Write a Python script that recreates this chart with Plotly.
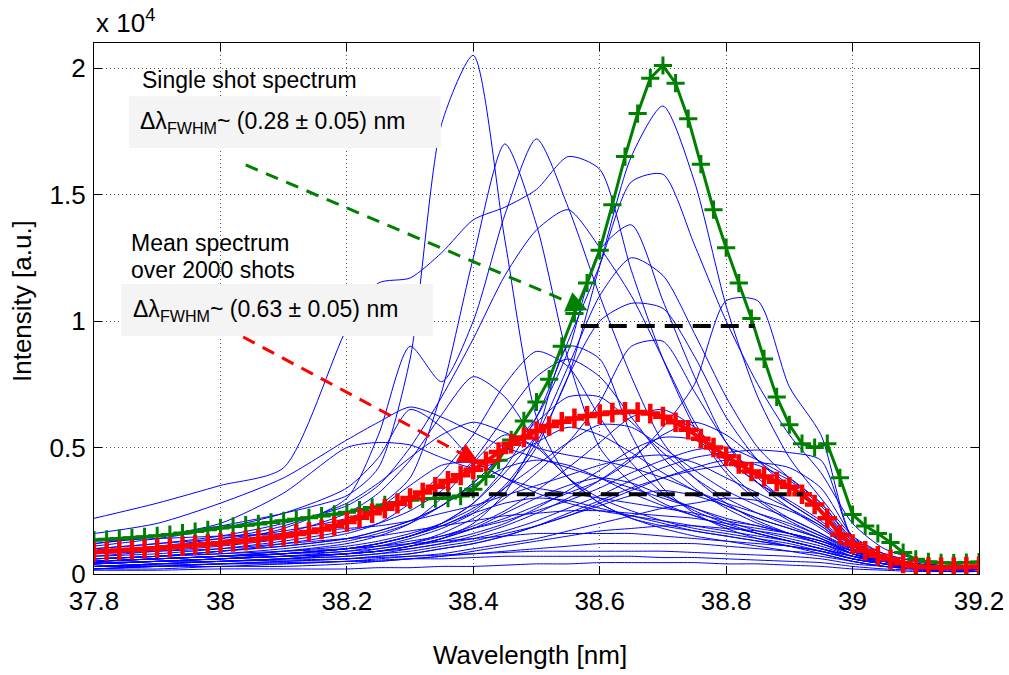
import plotly.graph_objects as go

# ---------------- data (intensity in units of 10^4 a.u.) ----------------
WAVELENGTH = [37.80, 37.82, 37.84, 37.86, 37.88, 37.90, 37.92, 37.94, 37.96, 37.98,
              38.00, 38.02, 38.04, 38.06, 38.08, 38.10, 38.12, 38.14, 38.16, 38.18,
              38.20, 38.22, 38.24, 38.26, 38.28, 38.30, 38.32, 38.34, 38.36, 38.38,
              38.40, 38.42, 38.44, 38.46, 38.48, 38.50, 38.52, 38.54, 38.56, 38.58,
              38.60, 38.62, 38.64, 38.66, 38.68, 38.70, 38.72, 38.74, 38.76, 38.78,
              38.80, 38.82, 38.84, 38.86, 38.88, 38.90, 38.92, 38.94, 38.96, 38.98,
              39.00, 39.02, 39.04, 39.06, 39.08, 39.10, 39.12, 39.14, 39.16, 39.18,
              39.20]

SINGLE_SHOT = [0.134, 0.137, 0.140, 0.143, 0.147, 0.151, 0.156, 0.162, 0.168, 0.175,
               0.182, 0.188, 0.193, 0.198, 0.204, 0.210, 0.216, 0.222, 0.229, 0.236,
               0.244, 0.253, 0.263, 0.273, 0.283, 0.292, 0.297, 0.298, 0.300, 0.308,
               0.335, 0.385, 0.450, 0.530, 0.605, 0.680, 0.770, 0.900, 1.030, 1.150,
               1.280, 1.460, 1.650, 1.820, 1.960, 2.010, 1.940, 1.800, 1.620, 1.440,
               1.290, 1.150, 1.010, 0.850, 0.700, 0.590, 0.515, 0.500, 0.515, 0.380,
               0.235, 0.190, 0.160, 0.125, 0.085, 0.058, 0.048, 0.044, 0.043, 0.045,
               0.047]

MEAN_SPECTRUM = [0.087, 0.090, 0.093, 0.096, 0.099, 0.102, 0.106, 0.110, 0.114, 0.118,
                 0.122, 0.127, 0.132, 0.138, 0.144, 0.150, 0.158, 0.166, 0.176, 0.190,
                 0.206, 0.222, 0.240, 0.258, 0.278, 0.300, 0.322, 0.345, 0.368, 0.390,
                 0.412, 0.445, 0.482, 0.515, 0.540, 0.565, 0.585, 0.602, 0.615, 0.625,
                 0.632, 0.638, 0.641, 0.640, 0.634, 0.622, 0.600, 0.570, 0.535, 0.500,
                 0.465, 0.435, 0.405, 0.385, 0.365, 0.345, 0.315, 0.275, 0.220, 0.155,
                 0.118, 0.092, 0.072, 0.058, 0.042, 0.030, 0.027, 0.026, 0.027, 0.028,
                 0.030]

SHOT_WAVELENGTH = [37.8, 37.9, 38.0, 38.1, 38.2, 38.25, 38.3, 38.35, 38.4, 38.45, 38.5, 38.55,
                   38.6, 38.65, 38.7, 38.75, 38.8, 38.85, 38.9, 38.95, 39.0, 39.05, 39.1, 39.15, 39.2]

SHOT_SPECTRA = [
    [.12, .15, .19, .24, .31, .42, .85, 1.78, 2.05, 1.32, .62, .38, .28, .22, .19, .17, .15, .13, .11, .09, .06, .04, .03, .02, .02],
    [.10, .12, .14, .17, .22, .27, .38, .72, 1.25, 1.70, 1.38, .85, .50, .36, .28, .23, .19, .16, .13, .10, .07, .05, .035, .03, .03],
    [.08, .10, .13, .18, .30, .55, .90, .76, 1.00, 1.42, 1.72, 1.45, 1.10, .78, .52, .38, .28, .21, .16, .12, .08, .05, .04, .03, .03],
    [.22, .28, .35, .42, .97, 1.15, 1.17, 1.27, 1.40, 1.45, 1.52, 1.65, 1.60, 1.20, .85, .58, .40, .29, .21, .15, .10, .06, .04, .03, .03],
    [.05, .06, .07, .08, .10, .12, .15, .20, .28, .42, .62, .92, 1.22, 1.55, 1.58, 1.30, 1.00, .75, .55, .40, .20, .10, .06, .04, .03],
    [.05, .06, .07, .08, .10, .12, .15, .19, .25, .35, .52, .78, 1.22, 1.65, 1.85, 1.55, 1.06, .70, .46, .30, .15, .08, .05, .03, .03],
    [.04, .05, .06, .07, .08, .09, .11, .14, .18, .22, .27, .32, .37, .45, .58, .75, 1.08, 1.08, .74, .55, .14, .07, .04, .03, .03],
    [.10, .12, .15, .20, .27, .35, .50, .70, .93, 1.18, 1.36, 1.44, 1.29, 1.10, .85, .60, .42, .30, .22, .16, .10, .06, .04, .03, .03],
    [.06, .07, .08, .10, .13, .16, .20, .27, .36, .48, .62, .88, 1.28, 1.38, 1.08, .78, .52, .36, .26, .18, .10, .06, .04, .03, .03],
    [.05, .06, .07, .08, .10, .12, .15, .20, .28, .40, .55, .82, 1.10, 1.25, 1.18, .95, .70, .50, .38, .28, .14, .08, .05, .03, .03],
    [.05, .06, .07, .08, .09, .11, .14, .18, .24, .34, .50, .78, 1.00, 1.07, 1.05, .86, .62, .45, .34, .25, .13, .07, .04, .03, .03],
    [.04, .05, .06, .07, .08, .10, .12, .16, .22, .30, .40, .52, .68, .90, .92, .72, .52, .38, .28, .20, .11, .06, .04, .03, .02],
    [.16, .20, .28, .38, .53, .60, .66, .62, .56, .50, .46, .42, .38, .34, .30, .26, .22, .19, .16, .13, .09, .06, .04, .03, .03],
    [.12, .15, .20, .32, .50, .52, .51, .46, .42, .45, .52, .58, .55, .48, .40, .33, .27, .22, .18, .14, .09, .06, .04, .03, .03],
    [.09, .11, .14, .19, .28, .36, .46, .55, .60, .56, .50, .47, .45, .42, .38, .33, .28, .24, .20, .15, .09, .06, .04, .03, .03],
    [.11, .14, .18, .24, .34, .46, .65, .58, .45, .38, .34, .32, .30, .28, .26, .24, .21, .19, .16, .13, .08, .05, .04, .03, .03],
    [.07, .08, .10, .13, .17, .20, .25, .33, .45, .62, .78, .85, .78, .62, .46, .34, .26, .20, .16, .12, .08, .05, .03, .03, .02],
    [.06, .07, .09, .11, .14, .17, .21, .27, .36, .48, .60, .70, .70, .60, .48, .38, .30, .24, .19, .14, .08, .05, .03, .02, .02],
    [.05, .06, .07, .09, .11, .13, .16, .20, .26, .34, .43, .52, .59, .58, .50, .41, .33, .27, .22, .16, .09, .05, .03, .02, .02],
    [.04, .05, .06, .07, .09, .10, .12, .15, .19, .25, .33, .42, .52, .62, .65, .58, .46, .36, .28, .20, .10, .05, .03, .02, .02],
    [.04, .05, .06, .07, .08, .09, .11, .13, .16, .20, .26, .33, .41, .49, .54, .53, .45, .36, .29, .21, .11, .06, .03, .02, .02],
    [.03, .04, .05, .06, .07, .08, .10, .12, .15, .19, .24, .30, .37, .46, .55, .60, .55, .45, .35, .25, .12, .06, .03, .02, .02],
    [.05, .06, .07, .08, .10, .11, .13, .15, .18, .21, .25, .29, .34, .40, .45, .49, .50, .45, .38, .28, .13, .06, .03, .02, .02],
    [.03, .04, .05, .06, .07, .08, .09, .11, .13, .16, .19, .23, .28, .33, .38, .42, .45, .43, .37, .27, .12, .06, .03, .02, .02],
    [.04, .05, .06, .07, .08, .09, .10, .12, .14, .17, .21, .26, .31, .37, .42, .46, .48, .49, .48, .45, .14, .06, .04, .03, .02],
    [.06, .07, .09, .11, .14, .17, .21, .27, .35, .42, .45, .43, .38, .32, .27, .23, .19, .16, .13, .10, .07, .05, .03, .02, .02],
    [.05, .06, .07, .09, .12, .15, .20, .30, .44, .55, .50, .38, .28, .22, .18, .15, .13, .11, .09, .07, .05, .03, .02, .02, .02],
    [.07, .09, .11, .14, .20, .26, .35, .43, .44, .38, .32, .28, .25, .23, .21, .19, .17, .15, .13, .10, .07, .05, .03, .02, .02],
    [.03, .04, .05, .06, .08, .09, .11, .14, .18, .24, .30, .35, .38, .36, .31, .26, .21, .17, .14, .11, .07, .04, .02, .02, .01],
    [.02, .03, .04, .05, .06, .07, .08, .10, .12, .15, .19, .23, .27, .31, .33, .31, .27, .22, .18, .14, .08, .04, .02, .01, .01],
    [.02, .03, .03, .04, .05, .06, .07, .08, .10, .12, .14, .17, .20, .23, .26, .28, .30, .29, .25, .19, .09, .04, .02, .01, .01],
    [.04, .05, .06, .08, .10, .12, .15, .19, .24, .28, .30, .29, .26, .23, .20, .17, .15, .13, .11, .09, .06, .04, .02, .02, .01],
    [.08, .09, .10, .12, .14, .15, .17, .19, .21, .23, .24, .25, .25, .24, .23, .22, .20, .18, .16, .13, .08, .05, .03, .02, .02],
    [.02, .02, .03, .03, .04, .05, .06, .07, .09, .11, .13, .15, .17, .18, .19, .19, .18, .17, .15, .12, .07, .04, .02, .01, .01],
    [.06, .07, .08, .09, .10, .11, .12, .13, .14, .15, .16, .16, .16, .16, .15, .14, .13, .12, .11, .09, .06, .04, .03, .02, .02],
    [.03, .03, .04, .04, .05, .05, .06, .07, .08, .09, .10, .11, .12, .12, .12, .12, .11, .10, .09, .08, .05, .03, .02, .01, .01],
    [.045, .05, .05, .055, .06, .065, .07, .075, .08, .085, .09, .09, .09, .09, .09, .085, .08, .075, .07, .06, .04, .03, .02, .015, .01],
    [.015, .015, .02, .02, .02, .025, .025, .03, .03, .035, .04, .04, .045, .045, .045, .045, .04, .04, .035, .03, .02, .015, .01, .01, .01],
    [.03, .035, .04, .045, .05, .055, .06, .06, .065, .07, .07, .07, .07, .07, .065, .065, .06, .055, .05, .045, .03, .02, .015, .01, .01],
    [.02, .03, .04, .05, .06, .07, .08, .10, .12, .15, .19, .24, .29, .34, .38, .41, .43, .44, .42, .34, .15, .06, .03, .02, .02],
    [.03, .04, .05, .06, .08, .09, .11, .14, .20, .32, .55, .90, .85, .55, .34, .24, .18, .14, .11, .08, .05, .03, .02, .02, .02],
    [.06, .07, .09, .12, .16, .20, .28, .40, .55, .75, .88, .82, .62, .44, .32, .25, .20, .16, .13, .10, .06, .04, .03, .02, .02],
    [.08, .10, .12, .16, .24, .32, .45, .63, .78, .70, .52, .38, .30, .25, .21, .18, .16, .14, .12, .09, .06, .04, .03, .02, .02],
    [.13, .14, .15, .16, .18, .19, .21, .24, .27, .31, .35, .39, .43, .46, .47, .44, .38, .32, .26, .19, .10, .05, .03, .02, .02],
]

# FWHM markers (half-maximum level and crossing wavelengths)
FWHM_SINGLE_WL = [38.57, 38.845]
FWHM_SINGLE_LEVEL = 0.98
FWHM_MEAN_WL = [38.336, 38.922]
FWHM_MEAN_LEVEL = 0.315

X_TICKS = [37.8, 38.0, 38.2, 38.4, 38.6, 38.8, 39.0, 39.2]
X_TICK_LABELS = ["37.8", "38", "38.2", "38.4", "38.6", "38.8", "39", "39.2"]
Y_TICKS = [0, 0.5, 1, 1.5, 2]
Y_TICK_LABELS = ["0", "0.5", "1", "1.5", "2"]

# ---------------- figure ----------------
FONT = "Liberation Sans, Arial, Helvetica, sans-serif"
BLUE = "#0000ff"
GREEN = "#008000"
RED = "#ff0000"

fig = go.Figure()

for spec in SHOT_SPECTRA:
    fig.add_trace(go.Scatter(x=SHOT_WAVELENGTH, y=spec, mode="lines",
                             line=dict(color=BLUE, width=1, shape="spline", smoothing=0.7),
                             hoverinfo="skip", showlegend=False))

fig.add_trace(go.Scatter(x=WAVELENGTH, y=SINGLE_SHOT, mode="lines+markers",
                         line=dict(color=GREEN, width=3),
                         marker=dict(symbol="cross-thin", size=13,
                                     line=dict(color=GREEN, width=3)),
                         showlegend=False))
fig.add_trace(go.Scatter(x=WAVELENGTH, y=MEAN_SPECTRUM, mode="lines+markers",
                         line=dict(color=RED, width=4),
                         marker=dict(symbol="cross-thin", size=14,
                                     line=dict(color=RED, width=4.5)),
                         showlegend=False))

fig.add_trace(go.Scatter(x=FWHM_SINGLE_WL, y=[FWHM_SINGLE_LEVEL] * 2, mode="lines",
                         line=dict(color="black", width=4, dash="18px,10px"),
                         showlegend=False))
fig.add_trace(go.Scatter(x=FWHM_MEAN_WL, y=[FWHM_MEAN_LEVEL] * 2, mode="lines",
                         line=dict(color="black", width=4, dash="18px,10px"),
                         showlegend=False))

# dashed arrows (shaft as trace, head as annotation)
ARROWS = [
    (38.040, 1.617, 38.560, 1.065, GREEN),
    (38.036, 0.937, 38.395, 0.458, RED),
]
for x0, y0, x1, y1, col in ARROWS:
    fig.add_trace(go.Scatter(x=[x0, x1], y=[y0, y1], mode="lines",
                             line=dict(color=col, width=3, dash="13px,9px"),
                             showlegend=False, hoverinfo="skip"))
    fig.add_annotation(x=x1 + (x1 - x0) * 0.04, y=y1 + (y1 - y0) * 0.04,
                       ax=x1 - (x1 - x0) * 0.02, ay=y1 - (y1 - y0) * 0.02,
                       xref="x", yref="y", axref="x", ayref="y",
                       text="", showarrow=True, arrowhead=2, arrowsize=1.4,
                       arrowwidth=3, arrowcolor=col, standoff=0)

# label boxes
fig.add_shape(type="rect", xref="x", yref="y", x0=37.855, x1=38.349, y0=1.684, y1=1.889,
              fillcolor="#f4f4f4", line=dict(width=0), layer="above")
fig.add_shape(type="rect", xref="x", yref="y", x0=37.843, x1=38.336, y0=0.941, y1=1.146,
              fillcolor="#f4f4f4", line=dict(width=0), layer="above")

TXT = dict(family=FONT, size=23, color="black")
fig.add_annotation(x=37.872, y=1.953, xref="x", yref="y", xanchor="left", yanchor="middle",
                   text="Single shot spectrum", showarrow=False, font=TXT)
fig.add_annotation(x=37.869, y=1.785, xref="x", yref="y", xanchor="left", yanchor="middle",
                   text="Δλ<sub>FWHM</sub>~ (0.28 ± 0.05) nm", showarrow=False, font=TXT)
fig.add_annotation(x=37.856, y=1.308, xref="x", yref="y", xanchor="left", yanchor="middle",
                   text="Mean spectrum", showarrow=False, font=TXT)
fig.add_annotation(x=37.856, y=1.202, xref="x", yref="y", xanchor="left", yanchor="middle",
                   text="over 2000 shots", showarrow=False, font=TXT)
fig.add_annotation(x=37.858, y=1.042, xref="x", yref="y", xanchor="left", yanchor="middle",
                   text="Δλ<sub>FWHM</sub>~ (0.63 ± 0.05) nm", showarrow=False, font=TXT)

# axis-related texts
fig.add_annotation(x=0.0, y=1.005, xref="paper", yref="paper", xanchor="left", yanchor="bottom",
                   text="x 10<sup>4</sup>", showarrow=False,
                   font=dict(family=FONT, size=26, color="black"))
fig.add_annotation(x=0.4927, y=-0.1525, xref="paper", yref="paper", xanchor="center",
                   yanchor="middle", text="Wavelength [nm]", showarrow=False,
                   font=dict(family=FONT, size=26, color="black"))
fig.add_annotation(x=-0.0814, y=0.514, xref="paper", yref="paper", xanchor="center",
                   yanchor="middle", text="Intensity [a.u.]", textangle=-90, showarrow=False,
                   font=dict(family=FONT, size=26, color="black"))

AX = dict(showline=True, linecolor="black", linewidth=1.2, mirror="ticks",
          ticks="inside", ticklen=8, tickwidth=1, tickcolor="black",
          showgrid=True, gridcolor="#555555", gridwidth=1, griddash="1px,3px",
          zeroline=False, automargin=False,
          tickfont=dict(family=FONT, size=26, color="black"))

fig.update_xaxes(range=[37.8, 39.2], tickvals=X_TICKS, ticktext=X_TICK_LABELS,
                 ticklabelstandoff=4, **AX)
fig.update_yaxes(range=[0, 2.099], tickvals=Y_TICKS, ticktext=Y_TICK_LABELS,
                 ticklabelstandoff=2, **AX)

fig.update_layout(width=1009, height=675, margin=dict(l=94, r=30, t=43, b=101),
                  paper_bgcolor="white", plot_bgcolor="white", showlegend=False,
                  font=dict(family=FONT, color="black"))

fig.write_html("out.html", config={"displayModeBar": False},
               post_script="document.body.style.margin='0px';document.body.style.overflow='hidden';")
